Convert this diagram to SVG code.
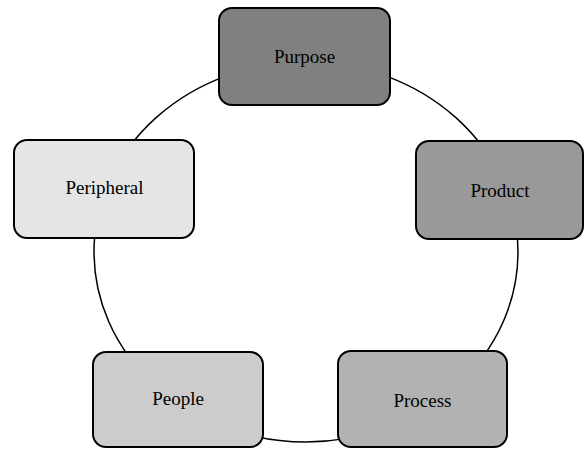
<svg xmlns="http://www.w3.org/2000/svg" width="584" height="449" viewBox="0 0 584 449">
<style>
.box{stroke:#000;stroke-width:2}
.lbl{font-family:"Liberation Serif","Times New Roman",serif;font-size:19px;fill:#000;text-anchor:middle}
.conn{fill:none;stroke:#000;stroke-width:1.5}
</style>
<rect width="584" height="449" fill="#fff"/>
<g id="connectors">
<ellipse class="conn" cx="306" cy="252" rx="212" ry="190"/>
</g>
<g id="purpose">
<rect class="box" x="219" y="8" width="171" height="97" rx="13" fill="#808080"/>
<text class="lbl" x="304.5" y="63">Purpose</text>
</g>
<g id="product">
<rect class="box" x="416" y="141" width="167" height="98" rx="13" fill="#999999"/>
<text class="lbl" x="500" y="197">Product</text>
</g>
<g id="process">
<rect class="box" x="338" y="351" width="169" height="96" rx="13" fill="#b2b2b2"/>
<text class="lbl" x="422.5" y="407">Process</text>
</g>
<g id="people">
<rect class="box" x="93" y="352" width="170" height="95" rx="13" fill="#cccccc"/>
<text class="lbl" x="178" y="405">People</text>
</g>
<g id="peripheral">
<rect class="box" x="14" y="140" width="180" height="98" rx="13" fill="#e5e5e5"/>
<text class="lbl" x="104.5" y="194">Peripheral</text>
</g>
</svg>
